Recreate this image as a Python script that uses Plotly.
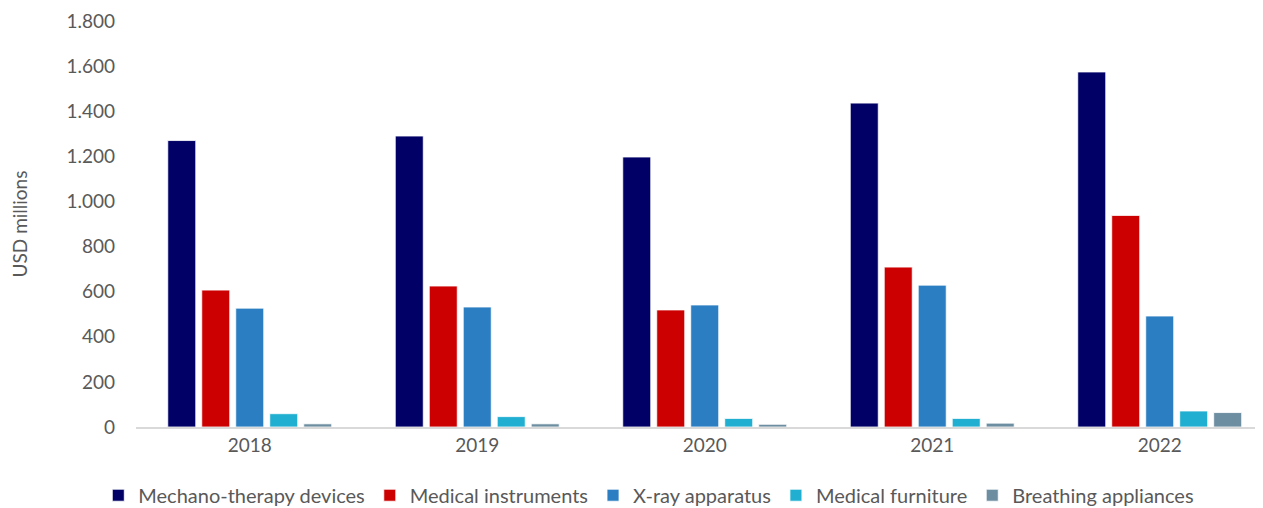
import plotly.graph_objects as go

years = ["2018", "2019", "2020", "2021", "2022"]
mechano = [1270, 1290, 1197, 1436, 1574]
instruments = [607, 625, 519, 709, 938]
xray = [527, 532, 541, 629, 492]
furniture = [59, 46, 38, 38, 71]
breathing = [14, 14, 12, 17, 64]

series = [
    ("Mechano-therapy devices", mechano, "#000066"),
    ("Medical instruments", instruments, "#cc0000"),
    ("X-ray apparatus", xray, "#2a7ec1"),
    ("Medical furniture", furniture, "#21afd1"),
    ("Breathing appliances", breathing, "#6d8ea0"),
]

fig = go.Figure()
for name, vals, col in series:
    fig.add_trace(go.Bar(x=years, y=vals, name=name,
                         marker=dict(color=col, line=dict(color="white", width=0.8))))

font = "Lato, 'Open Sans', sans-serif"
fig.update_layout(
    width=1255, height=500,
    margin=dict(l=128, r=0, t=13, b=81, autoexpand=False),
    plot_bgcolor="white", paper_bgcolor="white",
    barmode="group", bargap=0.253, bargroupgap=0.176,
    separators=",.",
    font=dict(family=font, size=19, color="#595959"),
    legend=dict(orientation="h", x=0.455, xanchor="center", y=-0.12, yanchor="top",
                font=dict(size=20, color="#595959"), itemwidth=30, traceorder="normal",
                tracegroupgap=0),
    showlegend=True,
)
fig.update_xaxes(type="category", range=[-0.5, 4.454], showgrid=False, automargin=False,
                 showline=True, linecolor="#d9d9d9", linewidth=2,
                 ticks="", tickfont=dict(size=19, color="#595959"))
fig.update_yaxes(range=[0, 1800], dtick=200, showgrid=False, zeroline=False, automargin=False,
                 separatethousands=True, showline=False,
                 tickfont=dict(size=19, color="#595959"), ticklabelstandoff=20,
                 title=dict(text="USD millions", font=dict(size=19, color="#595959"), standoff=44))

fig.write_html("out.html")
